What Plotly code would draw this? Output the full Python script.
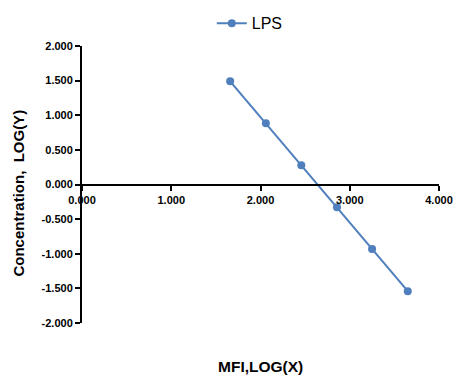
import plotly.graph_objects as go

x_vals = [1.66, 2.06, 2.457, 2.857, 3.25, 3.65]
y_vals = [1.49, 0.884, 0.277, -0.329, -0.93, -1.54]
series_name = "LPS"
x_ticks = [0, 1, 2, 3, 4]
y_ticks = [-2, -1.5, -1, -0.5, 0, 0.5, 1, 1.5, 2]

fig = go.Figure()
fig.add_trace(go.Scatter(
    x=x_vals, y=y_vals, mode="lines+markers", name=series_name,
    line=dict(color="#4f7fbd", width=2),
    marker=dict(color="#4f7fbd", size=8),
))

tickfont = dict(family="Liberation Sans", size=11, color="black", weight="bold")
fig.update_layout(
    width=469, height=392,
    margin=dict(l=82, r=30, t=46, b=69, autoexpand=False),
    plot_bgcolor="white", paper_bgcolor="white",
    showlegend=True,
    legend=dict(orientation="h", x=0.47, xref="paper", xanchor="center",
                y=0.984, yref="container", yanchor="top",
                font=dict(family="Liberation Sans", size=16, color="black")),
    xaxis=dict(range=[0, 4], tickvals=x_ticks,
               ticktext=[f"{v:.3f}" for v in x_ticks],
               showline=True, linecolor="black", linewidth=2,
               ticks="outside", ticklen=5, tickwidth=2, tickcolor="black",
               showgrid=False, zeroline=False,
               anchor="free", position=0.5, automargin=False,
               tickfont=tickfont),
    yaxis=dict(range=[-2, 2], tickvals=y_ticks,
               ticktext=[f"{v:.3f}" for v in y_ticks],
               showline=True, linecolor="black", linewidth=2,
               ticks="outside", ticklen=5, tickwidth=2, tickcolor="black",
               showgrid=False, zeroline=False, automargin=False,
               tickfont=tickfont),
)
fig.add_annotation(text="Concentration,  LOG(Y)", x=-0.178, xref="paper", y=0.469, yref="paper",
                   xanchor="center", yanchor="middle", showarrow=False, textangle=-90,
                   font=dict(family="Liberation Sans", size=15, color="black", weight="bold"))
fig.add_annotation(text="MFI,LOG(X)", x=0.5, xref="paper", y=-0.157, yref="paper",
                   xanchor="center", yanchor="middle", showarrow=False,
                   font=dict(family="Liberation Sans", size=15.5, color="black", weight="bold"))
fig.write_html("out.html", config={"displayModeBar": False},
               post_script="document.body.style.margin='0';")
